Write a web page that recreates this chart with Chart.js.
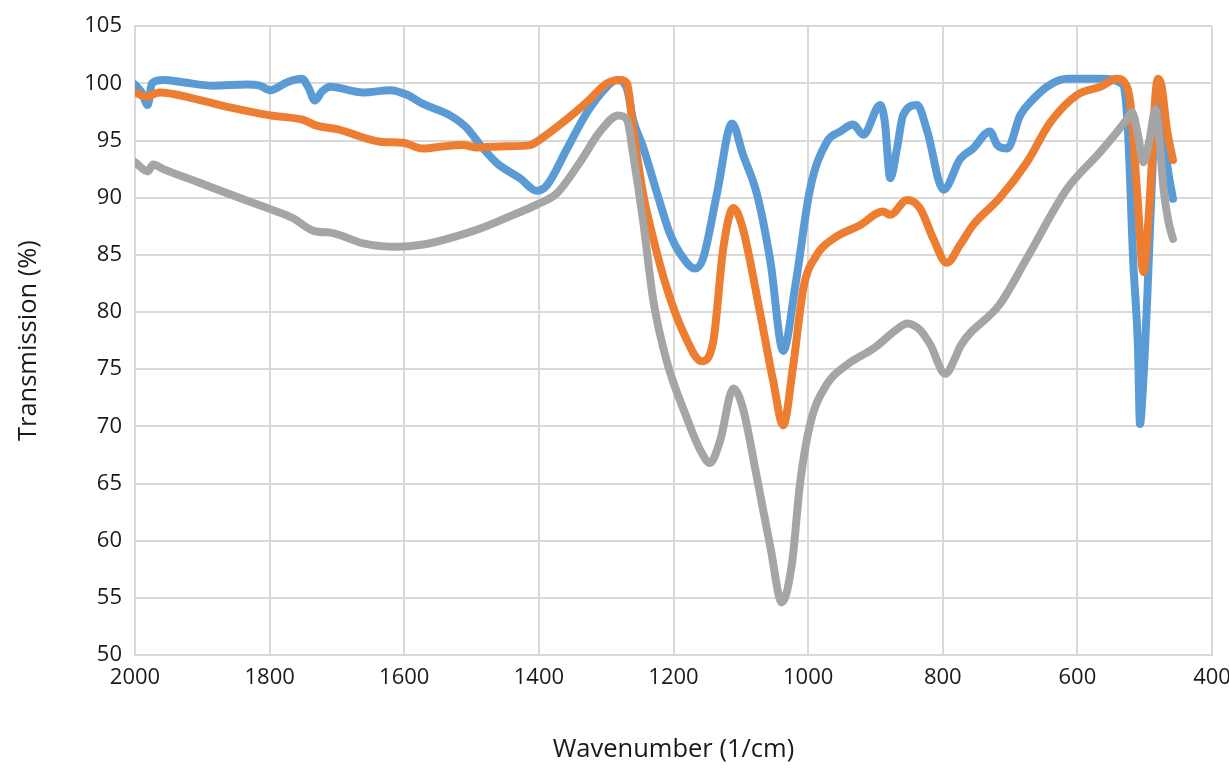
<!DOCTYPE html>
<html>
<head>
<meta charset="utf-8">
<script src="https://cdn.jsdelivr.net/npm/chart.js@4.4.1/dist/chart.umd.min.js"></script>
<style>
  html, body { margin: 0; padding: 0; background: #fff; }
  #wrap { width: 1229px; height: 768px; }
</style>
</head>
<body>
<div id="wrap"><canvas id="chart" width="1229" height="768"></canvas></div>
<script>
// x axis ticks (wavenumber, 1/cm) and y axis ticks (transmission, %)
const xTicks = [2000, 1800, 1600, 1400, 1200, 1000, 800, 600, 400];
const yTicks = [50, 55, 60, 65, 70, 75, 80, 85, 90, 95, 100, 105];

// blue series
const blueWn = [2000, 1990, 1981, 1975, 1958, 1929, 1884, 1834, 1815, 1799, 1774, 1752, 1742, 1733, 1722, 1710,
    1661, 1621, 1596, 1572, 1532, 1507, 1487, 1462, 1428, 1403, 1388, 1358, 1328, 1299, 1284, 1269, 1260,
    1245, 1224, 1205, 1190, 1168, 1156, 1135, 1113, 1097, 1076, 1056, 1037, 1019, 997, 972, 952, 933, 918,
    893, 886, 878, 868, 859, 838, 823, 799, 774, 755, 730, 719, 704, 685, 666, 640, 615, 566, 532, 525,
    517, 510, 507, 503, 496, 487, 482, 476, 467, 458];
const blueT = [99.9, 99.2, 98.1, 100, 100.3, 100.1, 99.8, 99.9, 99.8, 99.4, 100.1, 100.4, 99.6, 98.5, 99.3, 99.7,
    99.2, 99.4, 99.0, 98.2, 97.2, 96.1, 94.6, 93.0, 91.7, 90.6, 91.1, 94.3, 97.5, 99.7, 100.3, 99.5, 96.8,
    94.4, 90.3, 86.8, 85.1, 83.8, 84.7, 90.5, 96.5, 93.8, 90.3, 84.4, 76.6, 82.3, 90.8, 94.9, 95.8, 96.4, 95.5,
    98.1, 96.6, 91.7, 94.3, 97.2, 98.1, 95.8, 90.7, 93.4, 94.3, 95.8, 94.6, 94.3, 97.2, 98.6, 99.9, 100.4, 100.4, 99.9, 96,
    84.4, 77, 70.2, 73, 81.5, 94.6, 99, 98.5, 93.1, 89.9];

// orange series
const orangeWn = [2000, 1981, 1975, 1963, 1908, 1859, 1799, 1750, 1730, 1700, 1636, 1602, 1572, 1540, 1513, 1492,
    1450, 1413, 1398, 1364, 1328, 1299, 1279, 1269, 1260, 1245, 1230, 1210, 1186, 1158, 1141, 1126, 1111,
    1097, 1071, 1052, 1037, 1022, 1007, 987, 963, 923, 889, 878, 853, 834, 814, 794, 774, 755, 715, 675,
    640, 600, 566, 541, 530, 521, 511, 502, 492, 484, 480, 475, 467, 458];
const orangeT = [99.2, 98.8, 99.0, 99.2, 98.6, 97.9, 97.2, 96.8, 96.3, 96.0, 94.9, 94.8, 94.3, 94.5, 94.6, 94.4,
    94.5, 94.6, 95.1, 96.6, 98.4, 100, 100.3, 100, 96.0, 90.3, 86.4, 82.1, 78.3, 75.7, 77.4, 85.6, 89.1,
    87.3, 79.8, 74.0, 70.1, 75.4, 82.1, 85.0, 86.4, 87.6, 88.8, 88.5, 89.8, 89.1, 86.4, 84.3, 85.9, 87.6, 90.0, 93.1,
    96.6, 99.0, 99.7, 100.4, 100.1, 98.1, 90.3, 83.5, 90.3, 99, 100.4, 99.8, 96, 93.3];

// grey series
const greyWn = [2000, 1981, 1973, 1958, 1908, 1859, 1799, 1765, 1735, 1706, 1661, 1611, 1572, 1536, 1487, 1438,
    1403, 1373, 1339, 1309, 1282, 1269, 1260, 1245, 1230, 1210, 1180, 1160, 1146, 1131, 1111, 1097, 1076,
    1056, 1039, 1024, 1012, 997, 972, 942, 903, 868, 853, 835, 819, 796, 780, 774, 715, 675, 615, 566,
    526, 519, 510, 502, 493, 484, 478, 472, 465, 458];
const greyT = [93.1, 92.3, 92.9, 92.5, 91.4, 90.3, 89.0, 88.2, 87.1, 86.9, 86.0, 85.7, 85.9, 86.4, 87.3, 88.5,
    89.4, 90.4, 93.1, 95.8, 97.2, 96.8, 93.8, 87.9, 81.0, 75.7, 70.7, 67.9, 66.8, 68.7, 73.3, 71.6, 65.5,
    59.4, 54.6, 58.0, 65.0, 70.2, 73.7, 75.4, 76.8, 78.5, 79.0, 78.5, 77.2, 74.6, 76.2, 77.0, 80.7, 84.7, 90.8, 94.0,
    96.9, 97.5, 95.5, 93.1, 95, 97.7, 95, 90.8, 88, 86.4];

const COLORS = {
    blue: '#5B9BD5',
    orange: '#ED7D31',
    grey: '#A5A5A5',
    grid: '#D9D9D9',
    text: '#1a1a1a',
};

const FONT = "'Open Sans', sans-serif";

function toPoints(wn, t) {
    return wn.map((w, i) => ({ x: w, y: t[i] }));
}

function series(wn, t, color, order) {
    return {
        data: toPoints(wn, t),
        borderColor: color,
        backgroundColor: color,
        borderWidth: 8,
        pointRadius: 0,
        showLine: true,
        cubicInterpolationMode: 'monotone',
        borderCapStyle: 'round',
        borderJoinStyle: 'round',
        order: order,
    };
}

const ctx = document.getElementById('chart').getContext('2d');
new Chart(ctx, {
    type: 'scatter',
    data: {
        datasets: [
            series(blueWn, blueT, COLORS.blue, 3),
            series(orangeWn, orangeT, COLORS.orange, 2),
            series(greyWn, greyT, COLORS.grey, 1),
        ]
    },
    options: {
        responsive: false,
        animation: false,
        layout: { padding: { top: 24, right: 0, left: 0, bottom: 0 } },
        plugins: { legend: { display: false }, tooltip: { enabled: false } },
        scales: {
            x: {
                type: 'linear',
                reverse: true,
                min: 400,
                max: 2000,
                afterBuildTicks: (s) => { s.ticks = xTicks.map(v => ({ value: v })); },
                afterFit: (s) => {
                    s.height = 113;
                    s.paddingRight = 17;
                    s.paddingLeft = 0;
                },
                grid: { color: COLORS.grid, lineWidth: 2, drawTicks: false },
                border: { color: COLORS.grid, width: 2 },
                ticks: {
                    padding: 10,
                    color: COLORS.text,
                    callback: (v) => String(v),
                    font: { family: FONT, size: 22 },
                },
                title: {
                    display: true,
                    text: 'Wavenumber (1/cm)',
                    color: COLORS.text,
                    padding: { top: 0, bottom: 3 },
                    font: { family: FONT, size: 25.5 },
                },
            },
            y: {
                min: 50,
                max: 105,
                afterBuildTicks: (s) => { s.ticks = yTicks.map(v => ({ value: v })); },
                afterFit: (s) => { s.width = 135; },
                grid: { color: COLORS.grid, lineWidth: 2, drawTicks: false },
                border: { color: COLORS.grid, width: 2 },
                ticks: {
                    padding: 13,
                    color: COLORS.text,
                    callback: (v) => String(v),
                    font: { family: FONT, size: 22 },
                },
                title: {
                    display: true,
                    text: 'Transmission (%)',
                    color: COLORS.text,
                    padding: { top: 13, bottom: 0 },
                    font: { family: FONT, size: 25.5 },
                },
            },
        },
    },
});
</script>
</body>
</html>
